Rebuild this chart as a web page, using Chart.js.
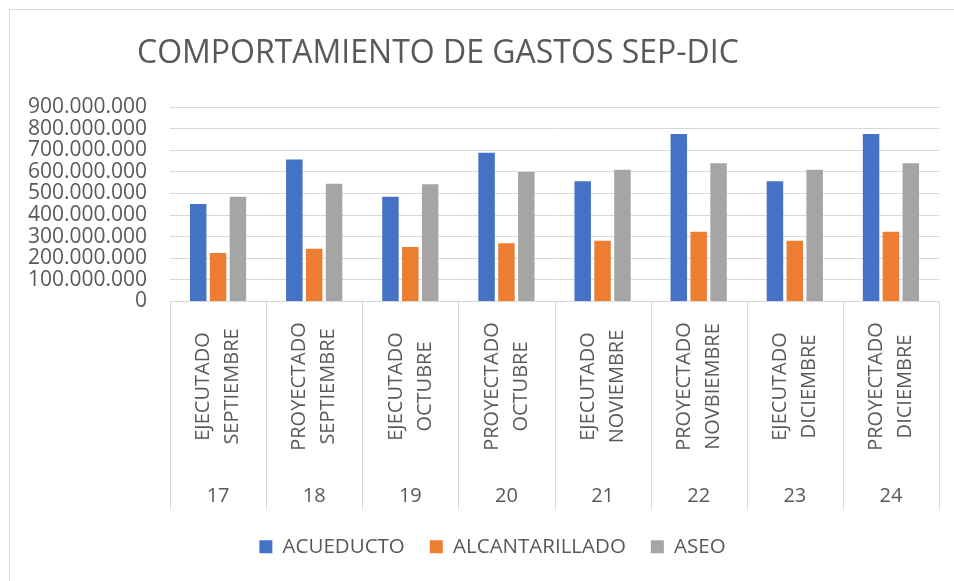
<!DOCTYPE html>
<html>
<head>
<meta charset="utf-8">
<title>Comportamiento de gastos</title>
<script src="https://cdn.jsdelivr.net/npm/chart.js@4.4.0/dist/chart.umd.min.js"></script>
<style>
  html, body { margin: 0; padding: 0; background: #fff; overflow: hidden; }
  #frame { position: absolute; left: 9px; top: 9px; width: 1200px; height: 1200px;
           border-left: 1px solid #d9d9d9; border-top: 1px solid #d9d9d9; }
  #myChart { position: absolute; left: 0; top: 0; }
</style>
</head>
<body>
<div id="frame"></div>
<canvas id="myChart" width="954" height="581"></canvas>
<script>
// labels of the two category levels
const rowLabels = [
    ['EJECUTADO', 'SEPTIEMBRE'],
    ['PROYECTADO', 'SEPTIEMBRE'],
    ['EJECUTADO', 'OCTUBRE'],
    ['PROYECTADO', 'OCTUBRE'],
    ['EJECUTADO', 'NOVIEMBRE'],
    ['PROYECTADO', 'NOVBIEMBRE'],
    ['EJECUTADO', 'DICIEMBRE'],
    ['PROYECTADO', 'DICIEMBRE']
];
const groupLabels = ['17', '18', '19', '20', '21', '22', '23', '24'];

// series values
const acueducto      = [451000000, 657000000, 485000000, 688000000, 556000000, 775000000, 556000000, 775000000];
const alcantarillado = [224000000, 244000000, 252000000, 269000000, 281000000, 323000000, 281000000, 323000000];
const aseo           = [485000000, 545000000, 542000000, 599000000, 610000000, 640000000, 610000000, 640000000];

const yMax = 900000000;
const yStep = 100000000;

const chartTitle = 'COMPORTAMIENTO DE GASTOS SEP-DIC';
const textColor = '#595959';
const lineColor = '#d9d9d9';
const fontFamily = "'Open Sans', 'Noto Sans', sans-serif";

Chart.defaults.font.family = fontFamily;
Chart.defaults.color = textColor;

function formatNumber(v) {
    return String(v).replace(/\B(?=(\d{3})+(?!\d))/g, '.');
}

// title drawn left of centre, like the spreadsheet chart
const titlePlugin = {
    id: 'titlePlugin',
    afterDraw(chart) {
        const ctx = chart.ctx;
        ctx.save();
        ctx.font = `32px ${fontFamily}`;
        ctx.fillStyle = textColor;
        ctx.textAlign = 'left';
        ctx.textBaseline = 'middle';
        ctx.fillText(chartTitle, 137, 54);
        ctx.restore();
    }
};

// the legend sits a bit right of the canvas centre in the original
const legendShift = {
    id: 'legendShift',
    afterLayout(chart) {
        if (chart.legend) { chart.legend.left += 46; }
    }
};

// two level category axis: rotated labels + group numbers, with cell dividers
const multiLevelAxis = {
    id: 'multiLevelAxis',
    afterDraw(chart) {
        const ctx = chart.ctx;
        const x = chart.scales.x;
        const n = rowLabels.length;
        const step = x.getPixelForValue(1) - x.getPixelForValue(0);
        const top = x.top;
        const bottom = top + 208;

        ctx.save();
        ctx.strokeStyle = lineColor;
        ctx.lineWidth = 1;
        for (let i = 0; i <= n; i++) {
            const px = Math.round(x.getPixelForValue(0) - step / 2 + i * step) + 0.5;
            ctx.beginPath();
            ctx.moveTo(px, top);
            ctx.lineTo(px, bottom);
            ctx.stroke();
        }

        ctx.fillStyle = textColor;
        ctx.textAlign = 'center';
        ctx.textBaseline = 'middle';
        for (let i = 0; i < n; i++) {
            const cx = x.getPixelForValue(i);
            ctx.save();
            ctx.translate(cx, top + 85);
            ctx.rotate(-Math.PI / 2);
            ctx.font = `20px ${fontFamily}`;
            ctx.fillText(rowLabels[i][0], 0, -14.5);
            ctx.fillText(rowLabels[i][1], 0, 14.5);
            ctx.restore();

            ctx.font = `20px ${fontFamily}`;
            ctx.fillText(groupLabels[i], cx, top + 195);
        }
        ctx.restore();
    }
};

const ctx = document.getElementById('myChart');
const chart = new Chart(ctx, {
    type: 'bar',
    data: {
        labels: rowLabels.map(l => l.join(' ')),
        datasets: [
            { label: 'ACUEDUCTO', data: acueducto, backgroundColor: '#4472C4' },
            { label: 'ALCANTARILLADO', data: alcantarillado, backgroundColor: '#ED7D31' },
            { label: 'ASEO', data: aseo, backgroundColor: '#A5A5A5' }
        ]
    },
    options: {
        responsive: false,
        animation: false,
        devicePixelRatio: 1,
        datasets: {
            bar: { categoryPercentage: 0.62, barPercentage: 0.83 }
        },
        layout: {
            padding: { top: 107, right: 15, bottom: 14, left: 0 }
        },
        plugins: {
            title: { display: false },
            tooltip: { enabled: false },
            legend: {
                position: 'bottom',
                labels: {
                    boxWidth: 13,
                    boxHeight: 13,
                    padding: 25,
                    color: textColor,
                    font: { size: 20.5, family: fontFamily }
                }
            }
        },
        scales: {
            x: {
                grid: { display: false },
                border: { display: true, color: lineColor },
                ticks: { display: false },
                afterFit(scale) { scale.height = 210; }
            },
            y: {
                min: 0,
                max: yMax,
                grid: { color: lineColor, drawTicks: false },
                border: { display: false },
                ticks: {
                    stepSize: yStep,
                    autoSkip: false,
                    padding: 23,
                    color: textColor,
                    font: { size: 21, family: fontFamily },
                    callback: v => formatNumber(v)
                },
                afterFit(scale) { scale.width = 170; }
            }
        }
    },
    plugins: [titlePlugin, legendShift, multiLevelAxis]
});
</script>
</body>
</html>
